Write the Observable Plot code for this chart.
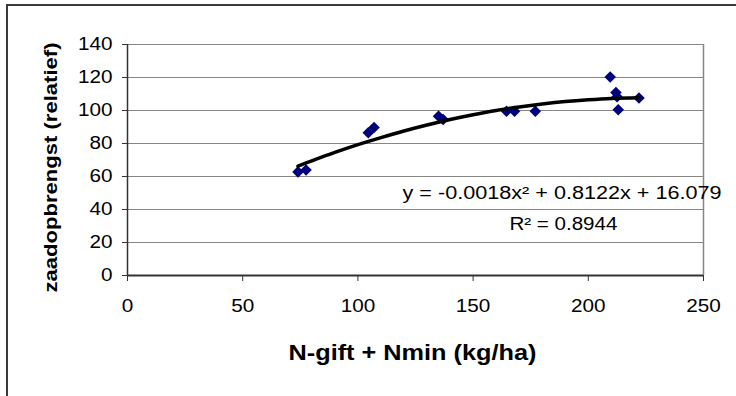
<!DOCTYPE html>
<html><head><meta charset="utf-8">
<script src="https://cdn.jsdelivr.net/npm/d3@7"></script>
<script src="https://cdn.jsdelivr.net/npm/@observablehq/plot@0.6"></script>
<style>
html,body{margin:0;padding:0;background:#fff;}
#wrap{position:relative;width:736px;height:396px;overflow:hidden;}
#wrap svg{position:absolute;left:0;top:0;}
#border{position:absolute;left:6px;top:4px;width:760px;height:420px;border:2px solid #3a3a3a;box-sizing:border-box;pointer-events:none;}
</style></head><body><div id="wrap"><div id="border"></div></div>
<script>
// Data
const nValues     = [74, 77.5, 104.5, 107, 135, 137, 164.5, 168, 177, 209.5, 212, 212.5, 213, 222];
const yieldValues = [62.8, 64, 86.5, 89.7, 96.5, 94.5, 99.5, 99.5, 99.6, 120.3, 110.9, 108.3, 100.5, 107.6];
// Fitted trendline (as drawn in the reference)
const trendN      = [74, 80, 90, 100, 110, 120, 130, 140, 150, 160, 170, 180, 190, 200, 210, 222];
const trendYield  = [66.3, 69.5, 74.6, 79.3, 83.6, 87.6, 91.2, 94.5, 97.4, 100.0, 102.1, 103.9, 105.4, 106.5, 107.3, 107.7];
const xTickValues = [0, 50, 100, 150, 200, 250];
const yTickValues = [0, 20, 40, 60, 80, 100, 120, 140];
const xTitle   = "N-gift + Nmin (kg/ha)";
const yTitle   = "zaadopbrengst (relatief)";
const equation = "y = -0.0018x² + 0.8122x + 16.079";
const rSquared = "R² = 0.8944";

const points = nValues.map((n, i) => ({n, v: yieldValues[i]}));
const trend  = trendN.map((n, i) => ({n, v: trendYield[i]}));

const chart = Plot.plot({
  width: 736, height: 396,
  marginLeft: 127, marginRight: 33, marginTop: 44, marginBottom: 121,
  style: {fontFamily: "'Liberation Sans', Arial, sans-serif", fontSize: "18px", color: "#000", background: "transparent", overflow: "visible"},
  x: {domain: [0, 250]},
  y: {domain: [0, 140]},
  marks: [
    Plot.gridY(yTickValues, {stroke: "#868686", strokeOpacity: 1, strokeWidth: 1}),
    Plot.ruleX([250], {stroke: "#868686", strokeWidth: 1.5}),
    Plot.axisX(xTickValues, {tickSize: 6, tickPadding: 18, label: null, stroke: "#333", fill: "#000", fontSize: 18, tickFormat: d => String(d)}),
    Plot.axisY(yTickValues, {tickSize: 5, tickPadding: 10, label: null, stroke: "#333", fill: "#000", fontSize: 18, tickFormat: d => String(d)}),
    Plot.ruleY([0], {stroke: "#333", strokeWidth: 2}),
    Plot.ruleX([0], {stroke: "#333", strokeWidth: 1.5}),
    Plot.dot(points, {x: "n", y: "v", symbol: "diamond2", r: 5.2, fill: "#00007f", stroke: "none"}),
    Plot.line(trend, {x: "n", y: "v", stroke: "#000", strokeWidth: 3.5, curve: "catmull-rom"}),
    Plot.text([equation], {x: 188.6, y: 46.1, text: d => d, lineAnchor: "bottom", textAnchor: "middle", fontSize: 18, fill: "#000"}),
    Plot.text([rSquared], {x: 189.2, y: 27.3, text: d => d, lineAnchor: "bottom", textAnchor: "middle", fontSize: 18, fill: "#000"}),
    Plot.text([xTitle], {frameAnchor: "bottom", text: d => d, dx: -3, dy: 84, lineAnchor: "bottom", textAnchor: "middle", fontSize: 22, fontWeight: "bold", fill: "#000"}),
    Plot.text([yTitle], {frameAnchor: "left", text: d => d, rotate: -90, dx: -76.5, dy: 7.5, lineAnchor: "middle", textAnchor: "middle", fontSize: 19, fontWeight: "bold", fill: "#000"})
  ]
});

document.getElementById("wrap").prepend(chart);

// Match the slightly wide lettering of the reference
const targetLengths = new Map([[equation, 319], [rSquared, 108], [xTitle, 248], [yTitle, 250]]);
d3.select(chart).selectAll("text").each(function() {
  const t = this.textContent;
  if (targetLengths.has(t)) {
    this.setAttribute("textLength", targetLengths.get(t));
    this.setAttribute("lengthAdjust", "spacingAndGlyphs");
  }
});
d3.select(chart).selectAll('g[aria-label$="tick label"] text').each(function() {
  const w = this.getComputedTextLength();
  this.setAttribute("textLength", w * 1.15);
  this.setAttribute("lengthAdjust", "spacingAndGlyphs");
});
</script>
</body></html>
